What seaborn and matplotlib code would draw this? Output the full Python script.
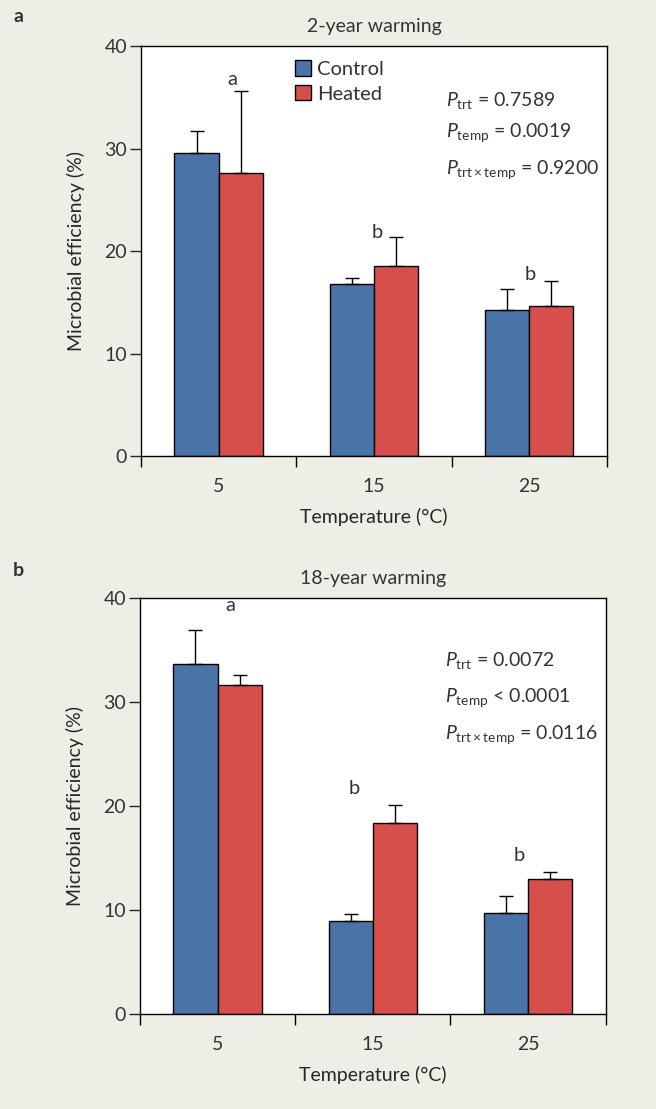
import numpy as np
import pandas as pd
import matplotlib
matplotlib.use("Agg")
import matplotlib.pyplot as plt
import seaborn as sns
from matplotlib.patches import Patch

# ============================
# Data
# ============================

temperatures = ["5", "15", "25"]
treatments = ["Control", "Heated"]

# panel a: 2-year warming
a_control = [29.6, 16.8, 14.2]
a_control_err = [2.1, 0.6, 2.1]
a_heated = [27.6, 18.5, 14.6]
a_heated_err = [8.0, 2.9, 2.5]
a_letters = ["a", "b", "b"]
a_letter_y = [36.7, 21.8, 17.7]
a_pvals = [r"$P_{\mathrm{trt}}$ = 0.7589",
           r"$P_{\mathrm{temp}}$ = 0.0019",
           r"$P_{\mathrm{trt}\times\mathrm{temp}}$ = 0.9200"]

# panel b: 18-year warming
b_control = [33.7, 8.9, 9.7]
b_control_err = [3.2, 0.7, 1.6]
b_heated = [31.6, 18.4, 13.0]
b_heated_err = [1.0, 1.7, 0.7]
b_letters = ["a", "b", "b"]
b_letter_y = [39.3, 21.7, 15.2]
b_pvals = [r"$P_{\mathrm{trt}}$ = 0.0072",
           r"$P_{\mathrm{temp}}$ < 0.0001",
           r"$P_{\mathrm{trt}\times\mathrm{temp}}$ = 0.0116"]

BLUE = "#4a74a8"
RED = "#d64f4a"
BG = "#efeee6"
TXT = "#333333"


def make_frame(control, heated):
    return pd.DataFrame({
        "temp": temperatures * 2,
        "treatment": ["Control"] * 3 + ["Heated"] * 3,
        "value": control + heated,
    })


def draw_panel(ax, control, control_err, heated, heated_err,
               letters, letter_y, letter_dx, pvals, pval_y, title):
    df = make_frame(control, heated)
    sns.barplot(data=df, x="temp", y="value", hue="treatment",
                order=temperatures, hue_order=treatments,
                palette=[BLUE, RED], width=0.57, errorbar=None,
                edgecolor="black", linewidth=1.0, saturation=1,
                legend=False, ax=ax)

    # upward-only error bars on top of each bar
    for container, errs in zip(ax.containers, [control_err, heated_err]):
        xs = [b.get_x() + b.get_width() / 2 for b in container]
        ys = [b.get_height() for b in container]
        ax.errorbar(xs, ys, yerr=[[0] * len(errs), errs], fmt="none",
                    ecolor="black", elinewidth=1.0, capsize=5, capthick=1.0)

    for i, (lab, y) in enumerate(zip(letters, letter_y)):
        ax.text(i + letter_dx[i], y, lab, ha="center", va="center", fontsize=14.5)

    for txt, y in zip(pvals, pval_y):
        ax.text(0.655, y, txt, transform=ax.transAxes, ha="left",
                va="center", fontsize=14)

    ax.set_xlim(-0.5, 2.5)
    ax.set_ylim(0, 40)
    ax.set_yticks([0, 10, 20, 30, 40])
    ax.set_xticks([0, 1, 2])
    ax.set_xticks([-0.5, 0.5, 1.5, 2.5], minor=True)
    ax.tick_params(axis="x", which="major", length=0, labelsize=14, pad=16)
    ax.tick_params(axis="x", which="minor", length=8, width=1, direction="out")
    ax.tick_params(axis="y", length=8, width=1, direction="out", labelsize=14, pad=2)
    for s in ax.spines.values():
        s.set_linewidth(1.0)
        s.set_color("black")
    ax.set_facecolor("white")
    ax.set_xlabel("Temperature (°C)", fontsize=14, labelpad=9)
    ax.set_ylabel("Microbial efficiency (%)", fontsize=14, labelpad=14)
    ax.set_title(title, fontsize=14, pad=10)


def main():
    sns.set_theme(style="ticks")
    plt.rcParams["font.family"] = ["Lato", "DejaVu Sans"]
    plt.rcParams["mathtext.fontset"] = "custom"
    plt.rcParams["mathtext.rm"] = "Lato"
    plt.rcParams["mathtext.it"] = "Lato:italic"
    plt.rcParams["text.color"] = TXT
    plt.rcParams["xtick.color"] = "black"
    plt.rcParams["xtick.labelcolor"] = TXT
    plt.rcParams["ytick.labelcolor"] = TXT

    fig = plt.figure(figsize=(6.56, 11.09), dpi=100, facecolor=BG)
    ax_a = fig.add_axes([0.215, 0.5888, 0.710, 0.3697])
    ax_b = fig.add_axes([0.2134, 0.0857, 0.710, 0.375])

    draw_panel(ax_a, a_control, a_control_err, a_heated, a_heated_err,
               a_letters, a_letter_y, [0.09, 0.02, 0.01],
               a_pvals, [0.868, 0.788, 0.698], "2-year warming")
    draw_panel(ax_b, b_control, b_control_err, b_heated, b_heated_err,
               b_letters, b_letter_y, [0.08, -0.12, -0.06],
               b_pvals, [0.851, 0.762, 0.671], "18-year warming")

    handles = [Patch(facecolor=BLUE, edgecolor="black", label="Control"),
               Patch(facecolor=RED, edgecolor="black", label="Heated")]
    ax_a.legend(handles=handles, loc="upper left", bbox_to_anchor=(0.30, 1.0),
                frameon=False, fontsize=14.5, handlelength=0.8, handleheight=0.8,
                handletextpad=0.3, labelspacing=0.35, borderaxespad=0.3)

    fig.text(0.02, 0.985, "a", fontsize=14, fontweight="bold", va="center")
    fig.text(0.02, 0.486, "b", fontsize=14, fontweight="bold", va="center")

    fig.savefig("out.png", dpi=100, facecolor=BG)


if __name__ == "__main__":
    main()
